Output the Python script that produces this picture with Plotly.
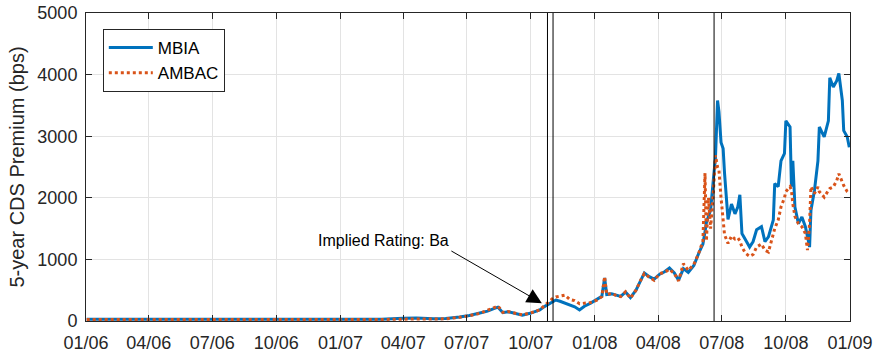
import plotly.graph_objects as go

dates = [
    "2006-01-02", "2006-02-15", "2006-04-01", "2006-06-01", "2006-08-01", "2006-10-01",
    "2006-12-01", "2007-01-15", "2007-03-01", "2007-04-01", "2007-04-20", "2007-05-15",
    "2007-06-01", "2007-06-21", "2007-07-05", "2007-07-20", "2007-07-31", "2007-08-09",
    "2007-08-15", "2007-08-22", "2007-08-29", "2007-09-05", "2007-09-12", "2007-09-19",
    "2007-09-30", "2007-10-07", "2007-10-14", "2007-10-20", "2007-10-25", "2007-11-02",
    "2007-11-06", "2007-11-12", "2007-11-19", "2007-11-26", "2007-12-03", "2007-12-10",
    "2007-12-17", "2007-12-26", "2008-01-04", "2008-01-11", "2008-01-15", "2008-01-18",
    "2008-01-25", "2008-02-01", "2008-02-07", "2008-02-14", "2008-02-21", "2008-02-29",
    "2008-03-08", "2008-03-12", "2008-03-19", "2008-03-26", "2008-04-03", "2008-04-10",
    "2008-04-17", "2008-04-24", "2008-04-30", "2008-05-07", "2008-05-14", "2008-05-22",
    "2008-05-29", "2008-06-04", "2008-06-07", "2008-06-09", "2008-06-12", "2008-06-15",
    "2008-06-19", "2008-06-22", "2008-06-25", "2008-06-27", "2008-06-30", "2008-07-03",
    "2008-07-05", "2008-07-10", "2008-07-15", "2008-07-20", "2008-07-24", "2008-07-27",
    "2008-07-30", "2008-08-04", "2008-08-10", "2008-08-15", "2008-08-20", "2008-08-27",
    "2008-09-01", "2008-09-06", "2008-09-13", "2008-09-15", "2008-09-20", "2008-09-24",
    "2008-09-29", "2008-10-01", "2008-10-07", "2008-10-09", "2008-10-11", "2008-10-14",
    "2008-10-19", "2008-10-24", "2008-10-29", "2008-11-01", "2008-11-04", "2008-11-06",
    "2008-11-11", "2008-11-16", "2008-11-18", "2008-11-25", "2008-12-01", "2008-12-03",
    "2008-12-08", "2008-12-13", "2008-12-16", "2008-12-21", "2008-12-23", "2008-12-28",
    "2008-12-31",
]

mbia = [
    30, 32, 30, 28, 30, 27,
    26, 25, 30, 45, 50, 35,
    40, 65, 90, 130, 160, 200,
    225, 135, 150, 135, 110, 95,
    125, 150, 180, 230, 260, 320,
    340, 320, 290, 260, 230, 180,
    240, 290, 350, 400, 700, 430,
    440, 420, 400, 470, 380, 500,
    700, 780, 720, 680, 760, 800,
    860, 780, 660, 850, 790, 900,
    1100, 1250, 1450, 1600, 1700, 1800,
    2300, 2650, 3580, 3400, 2900, 2800,
    2400, 1650, 1900, 1740, 1850, 2050,
    1420, 1310, 1200, 1290, 1480, 1530,
    1290, 1365, 1640, 2230, 2180, 2600,
    2720, 3250, 3150, 2180, 2600, 1850,
    1580, 1690, 1530, 1370, 1200, 1800,
    2120, 2600, 3150, 2990, 3250, 3950,
    3800, 3900, 4020, 3580, 3090, 2990,
    2820,
]

ambac = [
    25, 24, 23, 22, 24, 22,
    21, 20, 25, 30, 32, 28,
    35, 60, 85, 125, 170, 215,
    245, 140, 155, 140, 115, 100,
    130, 150, 185, 240, 290, 370,
    390, 400, 420, 350, 330, 280,
    285, 300, 340, 395, 720, 430,
    450, 410, 395, 475, 370, 500,
    690, 770, 710, 660, 770, 790,
    840, 770, 650, 930, 820, 920,
    1100, 1300, 2400, 1300, 2000, 1500,
    2100, 2690, 2500, 2450, 2000, 1700,
    1400, 1260, 1380, 1330, 1350, 1300,
    1200, 1100, 1050, 1080, 1200, 1250,
    1150, 1120, 1420, 1500, 1640, 1850,
    2000, 2100, 2180, 2120, 1900, 1700,
    1580, 1530, 1420, 1150, 1580, 2180,
    2070, 2175, 2100, 2010, 2120, 2150,
    2175, 2280, 2390, 2250, 2200, 2100,
    2070,
]

event_dates = ["2007-10-25", "2007-11-02", "2008-06-20"]

x_tick_vals = ["2006-01-01", "2006-04-01", "2006-07-01", "2006-10-01",
               "2007-01-01", "2007-04-01", "2007-07-01", "2007-10-01",
               "2008-01-01", "2008-04-01", "2008-07-01", "2008-10-01",
               "2009-01-01"]
x_tick_text = ["01/06", "04/06", "07/06", "10/06", "01/07", "04/07", "07/07",
               "10/07", "01/08", "04/08", "07/08", "10/08", "01/09"]
y_tick_vals = [0, 1000, 2000, 3000, 4000, 5000]

annot_text = "Implied Rating: Ba"
annot_head = ("2007-10-17", 290)
annot_text_pos = ("2007-03-04", 1310)

FONT = "Liberation Sans, Arial, Helvetica, sans-serif"
AXC = "#262626"
GRID = "#e3e3e3"

fig = go.Figure()
fig.add_trace(go.Scatter(x=dates, y=mbia, mode="lines", name="MBIA",
                         line=dict(color="#0072BD", width=3)))
fig.add_trace(go.Scatter(x=dates, y=ambac, mode="lines", name="AMBAC",
                         line=dict(color="#D95319", width=3, dash="dot")))

for d in event_dates:
    fig.add_shape(type="line", xref="x", yref="paper", x0=d, x1=d, y0=0, y1=1,
                  line=dict(color="black", width=1))

fig.add_annotation(x=annot_text_pos[0], y=annot_text_pos[1], text=annot_text,
                   showarrow=False, font=dict(family=FONT, size=16, color="black"))
fig.add_annotation(x=annot_head[0], y=annot_head[1], text="", showarrow=True,
                   ax=-92, ay=-53, arrowhead=2, arrowsize=3, arrowwidth=1,
                   arrowcolor="black")

fig.update_layout(
    width=876, height=352,
    margin=dict(l=86, r=26, t=13, b=31, autoexpand=False),
    paper_bgcolor="white", plot_bgcolor="white",
    font=dict(family=FONT, size=18, color=AXC),
    showlegend=True,
    legend=dict(x=0.022, y=0.948, xanchor="left", yanchor="top",
                bgcolor="white", bordercolor=AXC, borderwidth=1,
                font=dict(family=FONT, size=17, color="black"),
                tracegroupgap=0, itemwidth=44),
    xaxis=dict(range=["2006-01-01", "2009-01-01"], tickvals=x_tick_vals,
               ticktext=x_tick_text, showgrid=True, gridcolor=GRID, gridwidth=1,
               showline=True, linecolor=AXC, linewidth=1, mirror="ticks",
               ticks="inside", ticklen=6, tickcolor=AXC, zeroline=False,
               automargin=False, ticklabelstandoff=5),
    yaxis=dict(range=[0, 5000], tickvals=y_tick_vals, showgrid=True,
               gridcolor=GRID, gridwidth=1, showline=True, linecolor=AXC,
               linewidth=1, mirror="ticks", ticks="inside", ticklen=6,
               tickcolor=AXC, zeroline=False, automargin=False,
               ticklabelstandoff=4,
               title=dict(text="5-year CDS Premium (bps)", standoff=7,
                          font=dict(family=FONT, size=20, color=AXC))),
)

fig.write_html("out.html", config={"displayModeBar": False},
               post_script="document.body.style.margin='0';document.body.style.overflow='hidden';")
